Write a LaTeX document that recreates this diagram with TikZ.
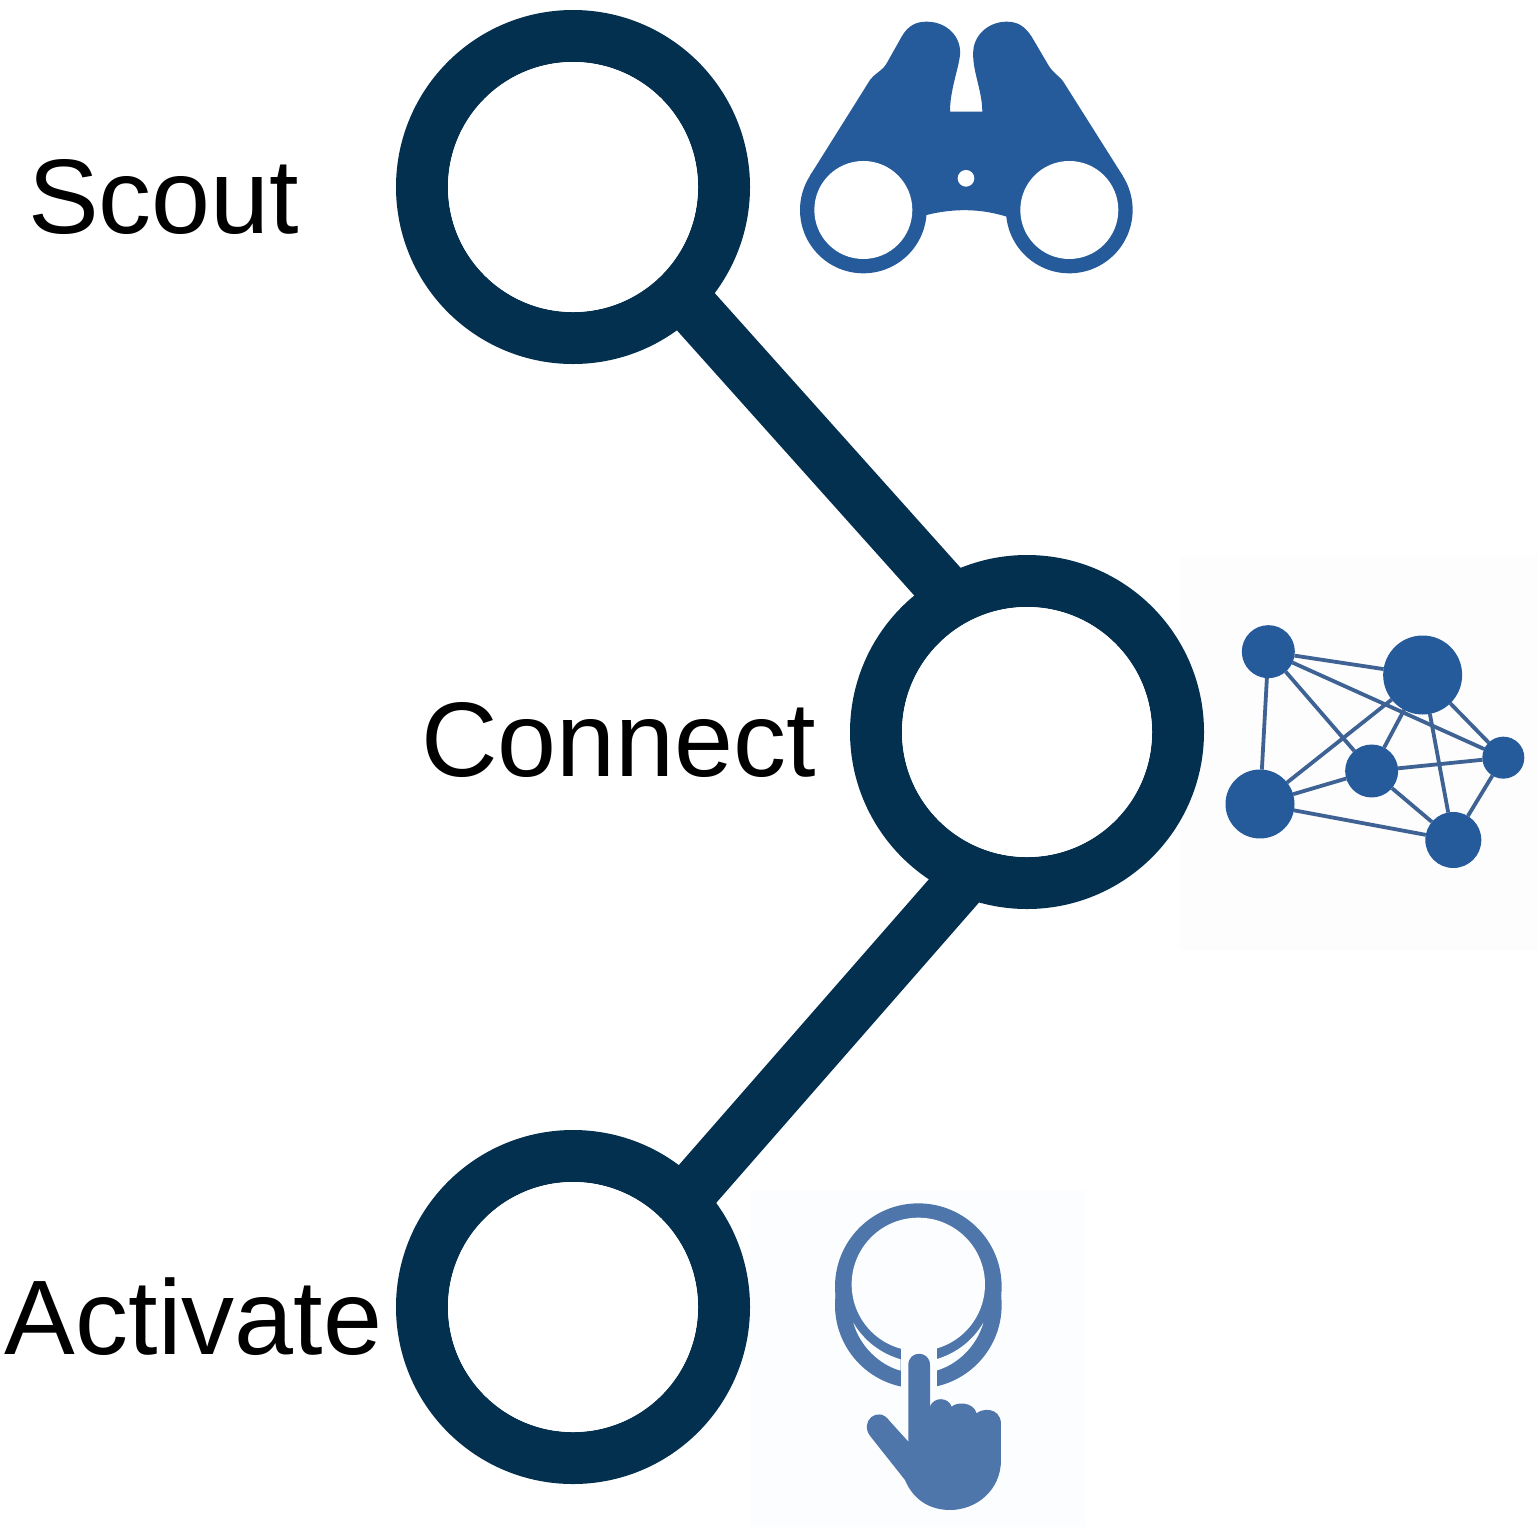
\documentclass[tikz,border=0pt]{standalone}
\usepackage{fontspec}
\setmainfont{Liberation Sans}
\definecolor{ringcol}{HTML}{04304F}
\definecolor{iconblue}{HTML}{255A9B}
\definecolor{edgeblue}{HTML}{3E6294}
\definecolor{handblue}{HTML}{4E76AB}
\definecolor{netbg}{HTML}{FDFDFD}
\definecolor{handbg}{HTML}{FCFDFE}
\tikzset{
  stage/.style={circle,draw=ringcol,line width=52pt,fill=white,minimum size=302pt,inner sep=0pt,outer sep=0pt},
  link/.style={draw=ringcol,line width=53pt,shorten <=-12pt,shorten >=-12pt},
  lab/.style={anchor=base west,inner sep=0pt,outer sep=0pt,text=black,font=\fontsize{106}{106}\selectfont},
  hub/.style={circle,fill=iconblue,inner sep=0pt,outer sep=0pt},
  wire/.style={draw=edgeblue,line width=3.8pt},
  icon/.style={x=0.3333pt,y=-0.3333pt}
}
\begin{document}
\begin{tikzpicture}[x=1pt,y=-1pt]
\useasboundingbox (0,0) rectangle (1538,1527);
\fill[white] (0,0) rectangle (1538,1527);
\fill[netbg] (1180,555) rectangle (1538,950);
\fill[handbg] (750,1190) rectangle (1085,1527);
% main stages
\node[stage] (scout) at (573,187) {};
\node[stage] (connect) at (1027,732) {};
\node[stage] (activate) at (573,1307) {};
\draw[link] (scout.-45) -- (connect.119);
\draw[link] (connect.-112.5) -- (activate.44.7);
\fill[white] (573,187) circle (125);
\fill[white] (1027,732) circle (125);
\fill[white] (573,1307) circle (125);
\node[lab] (t1) at (28,233) {Scout};
\node[lab] (t2) at (421,776) {Connect};
\node[lab] (t3) at (5,1354) {Activate};
% binoculars
\begin{scope}[shift={(780,0)},icon]
\fill[iconblue] (250,630) circle (190);
\fill[iconblue] (868,630) circle (190);
\fill[iconblue] (90,527) -- (270,240) .. controls (290,215) and (305,215) .. (320,190)
  -- (365,110) .. controls (385,75) and (410,65) .. (440,65)
  .. controls (500,65) and (545,110) .. (540,165)
  .. controls (535,210) and (510,270) .. (510,335) -- (607,335)
  .. controls (607,270) and (575,210) .. (580,150)
  .. controls (585,100) and (630,65) .. (680,65)
  .. controls (715,65) and (735,80) .. (755,110)
  -- (805,195) .. controls (820,220) and (835,225) .. (850,245)
  -- (1028,527) -- (860,680) -- (680,650)
  .. controls (600,625) and (520,625) .. (440,645) -- (300,680) -- cycle;
\fill[white] (250,630) circle (147);
\fill[white] (868,630) circle (147);
\fill[white] (558,535) circle (25);
\end{scope}
% network
\begin{scope}[shift={(1200,600)},icon]
\node[hub,minimum size=53pt] (na) at (205,155) {};
\node[hub,minimum size=79pt] (nb) at (668,225) {};
\node[hub,minimum size=69pt] (nc) at (180,612) {};
\node[hub,minimum size=53pt] (nd) at (515,513) {};
\node[hub,minimum size=42pt] (ne) at (910,473) {};
\node[hub,minimum size=56pt] (nf) at (760,720) {};
\foreach \p/\q in {na/nb,na/nc,na/nd,na/ne,nb/nc,nb/nd,nb/ne,nb/nf,nc/nd,nc/nf,nd/ne,nd/nf,ne/nf}
  \draw[wire] (\p) -- (\q);
\end{scope}
% push button hand
\begin{scope}[shift={(800,1190)},icon]
\fill[handblue] (355,290) circle (250);
\fill[handblue] (355,345) circle (250);
\fill[handbg] (355,283) circle (200);
\fill[handbg] (160,398) .. controls (190,450) and (240,490) .. (302,508) -- (302,542)
  .. controls (240,525) and (180,470) .. (160,398) -- cycle;
\fill[handbg] (550,398) .. controls (520,450) and (470,490) .. (408,508) -- (408,542)
  .. controls (470,525) and (530,470) .. (550,398) -- cycle;
\fill[handbg] (302,460) rectangle (412,610);
\fill[handbg] (80,600) rectangle (650,700);
\fill[handblue] (325,525) .. controls (325,480) and (390,480) .. (390,525)
  -- (390,650) .. controls (400,620) and (445,620) .. (455,650)
  .. controls (470,635) and (520,635) .. (530,670)
  .. controls (545,655) and (600,650) .. (603,700)
  -- (603,810) .. controls (603,900) and (530,960) .. (450,960)
  .. controls (390,960) and (340,930) .. (315,870)
  -- (212,740) .. controls (175,695) and (235,645) .. (268,692)
  -- (325,755) -- cycle;
\end{scope}
\end{tikzpicture}
\end{document}
